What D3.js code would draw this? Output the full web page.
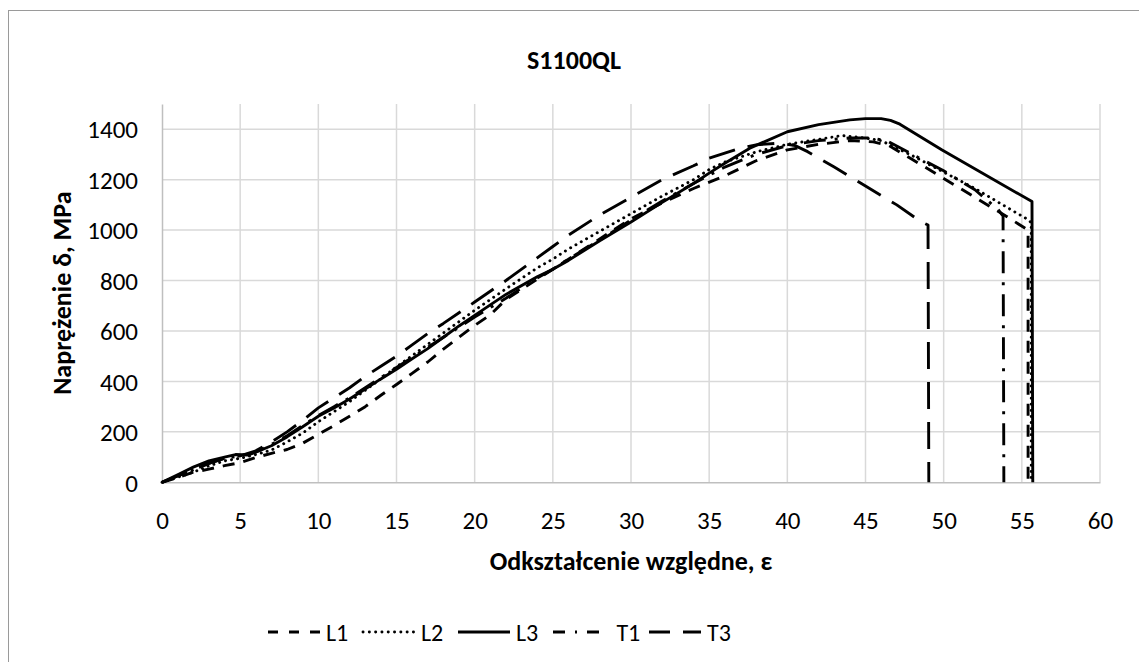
<!DOCTYPE html>
<html><head><meta charset="utf-8">
<script src="https://cdn.jsdelivr.net/npm/d3@7"></script>
<style>
html,body{margin:0;padding:0;background:#fff;}
svg{display:block;font-family:Carlito,Lato,"Open Sans",sans-serif;}
</style></head>
<body><svg id="c" width="1139" height="662"></svg>
<script>
const title = "S1100QL";
const xTitle = "Odkształcenie względne, ε";
const yTitle = "Naprężenie δ, MPa";
const xTicks = [0,5,10,15,20,25,30,35,40,45,50,55,60];
const yTicks = [0,200,400,600,800,1000,1200,1400];
const seriesNames = ["L1","L2","L3","T1","T3"];

const L1 = [[0,0],[1,18],[2,40],[3,52],[4,66],[5,78],[6,98],[7,115],[8,130],[9,155],[10,190],[11,225],[12,262],[13,300],[14,345],[15,388],[16,432],[17,477],[18,528],[19,575],[20,622],[21,664],[22,725],[24,805],[25,845],[26,885],[28,965],[30,1045],[32,1108],[34,1165],[36,1215],[38,1275],[40,1318],[42,1340],[44,1355],[45.5,1350],[46.5,1335],[48,1280],[50,1205],[52,1130],[54,1055],[55.4,1000],[55.4,0]];
const L2 = [[0,0],[1,20],[2,40],[3,65],[4,85],[5,95],[6,110],[7,128],[8,160],[9,195],[10,240],[11,280],[12,320],[13,365],[14,410],[15,458],[16,502],[17,547],[18,592],[19,637],[20,682],[22,767],[24,850],[25,885],[26,925],[28,995],[30,1065],[32,1135],[34,1200],[35,1240],[36,1270],[38,1310],[40,1340],[42,1360],[43.5,1375],[45,1365],[46,1355],[48,1295],[50,1230],[52,1165],[54,1092],[55.3,1045],[55.6,1030],[55.6,0]];
const L3 = [[0,0],[1,30],[2,60],[3,85],[4,100],[4.7,110],[5.5,108],[6,120],[7,145],[8,180],[9,220],[10,262],[11,295],[12,330],[13,370],[14,410],[15,448],[16,490],[17,530],[18,575],[19,620],[20,662],[22,745],[24,815],[25,845],[26,880],[28,958],[30,1032],[32,1110],[34,1185],[35,1226],[36,1265],[37.6,1325],[40,1390],[42,1418],[44,1437],[45,1442],[46,1442],[46.6,1435],[47.2,1420],[49.9,1318],[55.65,1113],[55.7,0]];
const T1 = [[0,0],[1,25],[2,50],[3,75],[4,95],[5,105],[6,120],[7,150],[8,185],[9,225],[10,265],[11,300],[12,335],[13,375],[14,415],[15,455],[16,495],[17,535],[18,575],[19,615],[20,655],[22,730],[24,810],[25,845],[26,885],[28,960],[30,1040],[32,1115],[34,1185],[36,1250],[38,1300],[40,1335],[42,1355],[44,1365],[45.5,1365],[46.5,1350],[48,1300],[50,1235],[52,1160],[53.5,1080],[53.8,1055],[53.85,0]];
const T3 = [[0,0],[1,25],[2,50],[3,75],[4,95],[5,105],[6,125],[7,160],[8,200],[9,245],[10,295],[11,335],[12,375],[13,420],[14,460],[15,500],[16,545],[17,590],[18,630],[19,672],[20,715],[22,800],[24,890],[25,935],[26,980],[28,1060],[30,1130],[32,1200],[34,1255],[35,1285],[36,1305],[37,1325],[38,1338],[39.5,1345],[40.5,1335],[41.3,1311],[43,1250],[45,1175],[47,1100],[48.5,1035],[49.0,1020],[49.05,0]];

const seriesData = [L1,L2,L3,T1,T3];
const lineDash = ["12,9","0.1,6","none","22,9,3,9","27,13"];
const lineCap = ["butt","round","butt","butt","butt"];
const legendDash = ["10,11","0.1,6.2","none","12,10,2,10","21,13"];

const svg = d3.select("#c");
const plot = {left:162, right:1100, top:104, bottom:482.3};

svg.append("rect").attr("x",8.5).attr("y",10.5).attr("width",1140).attr("height",660)
  .attr("fill","#fff").attr("stroke","#9a9a9a").attr("stroke-width",1);

const x = d3.scaleLinear().domain([0,60]).range([plot.left, plot.right]);
const y = d3.scaleLinear().domain([0,1500]).range([plot.bottom, plot.top]);

const g = svg.append("g");
g.selectAll(".vg").data(xTicks.slice(1)).join("line")
  .attr("x1",d=>x(d)).attr("x2",d=>x(d)).attr("y1",plot.top).attr("y2",plot.bottom)
  .attr("stroke","#d9d9d9").attr("stroke-width",1.5);
g.selectAll(".hg").data(yTicks.slice(1)).join("line")
  .attr("x1",plot.left).attr("x2",plot.right).attr("y1",d=>y(d)).attr("y2",d=>y(d))
  .attr("stroke","#d9d9d9").attr("stroke-width",1.5);

const xAxis = d3.axisBottom(x).tickValues(xTicks).tickSize(0).tickPadding(29).tickFormat(d3.format("d"));
const yAxis = d3.axisLeft(y).tickValues(yTicks).tickSize(0).tickPadding(24).tickFormat(d3.format("d"));
const gx = svg.append("g").attr("transform",`translate(0,${plot.bottom})`).call(xAxis);
const gy = svg.append("g").attr("transform",`translate(${plot.left},0)`).call(yAxis);
[gx,gy].forEach(a=>{
  a.select(".domain").attr("stroke","#bfbfbf").attr("stroke-width",1.5);
  a.selectAll("text").attr("font-size",25).attr("fill","#000").attr("font-family","Carlito,Lato,sans-serif");
});
gy.selectAll("text").attr("dy","0.35em");

const line = d3.line().x(d=>x(d[0])).y(d=>y(d[1]));
svg.append("g").selectAll("path").data(seriesData).join("path")
  .attr("d",line).attr("fill","none").attr("stroke","#000").attr("stroke-width",2.9)
  .attr("stroke-dasharray",(d,i)=>lineDash[i]).attr("stroke-linecap",(d,i)=>lineCap[i])
  .attr("stroke-linejoin","round");

svg.append("text").attr("x",574).attr("y",69).attr("text-anchor","middle")
  .attr("font-size",26).attr("font-weight","bold").text(title);
svg.append("text").attr("x",(plot.left+plot.right)/2).attr("y",570).attr("text-anchor","middle")
  .attr("font-size",26).attr("font-weight","bold").text(xTitle);
svg.append("text").attr("transform",`translate(71,${(plot.top+plot.bottom)/2}) rotate(-90)`)
  .attr("text-anchor","middle").attr("font-size",26).attr("font-weight","bold").text(yTitle);

const legX = [268,363,458,553,649];
const lg = svg.append("g");
seriesNames.forEach((n,i)=>{
  lg.append("line").attr("x1",legX[i]).attr("x2",legX[i]+52).attr("y1",632).attr("y2",632)
    .attr("stroke","#000").attr("stroke-width",2.9).attr("stroke-dasharray",legendDash[i])
    .attr("stroke-linecap",lineCap[i]);
  lg.append("text").attr("x",legX[i]+58).attr("y",640.5).attr("font-size",24)
    .attr("xml:space","preserve").text(i===3?" "+n:n);
});
</script></body></html>
